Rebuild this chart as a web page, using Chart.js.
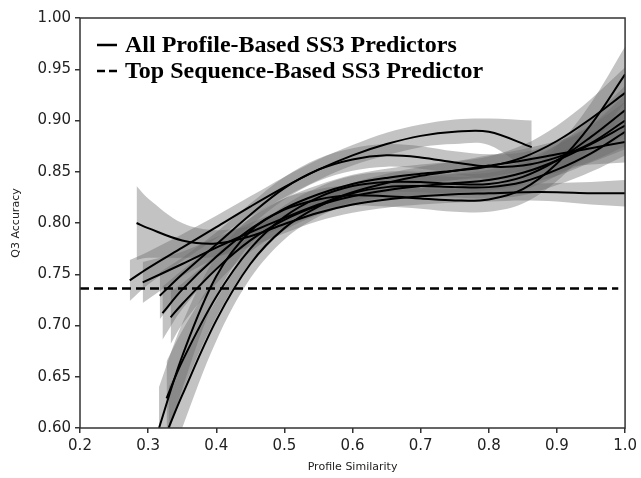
<!DOCTYPE html>
<html>
<head>
<meta charset="utf-8">
<script src="https://cdn.jsdelivr.net/npm/chart.js@4.4.1/dist/chart.umd.min.js"></script>
<style>
  html, body { margin: 0; padding: 0; background: #fff; }
  #wrap { width: 641px; height: 478px; }
</style>
</head>
<body>
<div id="wrap"><canvas id="grafico" width="641" height="478"></canvas></div>
<script>
// eixo x comum (a partir de 0.35) e pontos iniciais de cada curva
const gridX = [0.35, 0.40, 0.45, 0.50, 0.55, 0.60, 0.65, 0.70, 0.75, 0.80, 0.85, 0.90, 0.95, 1.00];

// curva que começa em 0.80 e termina plana
const flatX = [0.283, 0.30].concat(gridX);
const flatY = [0.800, 0.795, 0.783, 0.780, 0.787, 0.799, 0.810, 0.818, 0.823, 0.826, 0.828, 0.829, 0.830, 0.830, 0.829, 0.829];
const flatHi = [0.836, 0.824, 0.800, 0.793, 0.797, 0.808, 0.818, 0.826, 0.831, 0.834, 0.836, 0.837, 0.838, 0.839, 0.840, 0.842];
const flatLo = [0.764, 0.766, 0.766, 0.767, 0.777, 0.790, 0.802, 0.810, 0.815, 0.818, 0.820, 0.821, 0.822, 0.821, 0.818, 0.816];

// curva curta, termina em 0.863
const shortX = [0.273, 0.30, 0.35, 0.40, 0.45, 0.50, 0.55, 0.60, 0.65, 0.70, 0.75, 0.80, 0.863];
const shortY = [0.744, 0.756, 0.776, 0.796, 0.816, 0.835, 0.852, 0.866, 0.877, 0.885, 0.889, 0.889, 0.874];
const shortHi = [0.764, 0.772, 0.789, 0.807, 0.826, 0.845, 0.862, 0.876, 0.888, 0.896, 0.901, 0.902, 0.900];
const shortLo = [0.724, 0.740, 0.763, 0.785, 0.806, 0.825, 0.842, 0.856, 0.866, 0.874, 0.877, 0.876, 0.848];

const cX = [0.292].concat(gridX);
const cY = [0.742, 0.760, 0.776, 0.791, 0.805, 0.818, 0.830, 0.839, 0.846, 0.851, 0.856, 0.861, 0.867, 0.873, 0.879];
const cHi = [0.762, 0.772, 0.786, 0.800, 0.814, 0.827, 0.839, 0.848, 0.855, 0.860, 0.866, 0.872, 0.880, 0.889, 0.899];
const cLo = [0.722, 0.748, 0.766, 0.782, 0.796, 0.809, 0.821, 0.830, 0.837, 0.842, 0.846, 0.850, 0.854, 0.857, 0.859];

// curva com corcova perto de 0.63
const humpX = [0.317].concat(gridX);
const humpY = [0.729, 0.750, 0.779, 0.808, 0.834, 0.852, 0.862, 0.866, 0.864, 0.859, 0.855, 0.856, 0.864, 0.878, 0.900];
const humpHi = [0.752, 0.766, 0.791, 0.819, 0.845, 0.863, 0.873, 0.877, 0.875, 0.870, 0.867, 0.869, 0.879, 0.896, 0.925];
const humpLo = [0.706, 0.734, 0.767, 0.797, 0.823, 0.841, 0.851, 0.855, 0.853, 0.848, 0.843, 0.843, 0.849, 0.860, 0.875];

const m2X = [0.321].concat(gridX);
const m2Y = [0.712, 0.735, 0.767, 0.794, 0.814, 0.828, 0.838, 0.844, 0.848, 0.851, 0.855, 0.864, 0.880, 0.902, 0.927];
const m2Hi = [0.738, 0.754, 0.780, 0.805, 0.824, 0.837, 0.847, 0.853, 0.857, 0.860, 0.865, 0.876, 0.895, 0.921, 0.952];
const m2Lo = [0.686, 0.716, 0.754, 0.783, 0.804, 0.819, 0.829, 0.835, 0.839, 0.842, 0.845, 0.852, 0.865, 0.883, 0.902];

const m3X = [0.333].concat(gridX);
const m3Y = [0.708, 0.721, 0.755, 0.783, 0.803, 0.817, 0.826, 0.832, 0.836, 0.839, 0.842, 0.849, 0.861, 0.877, 0.895];
const m3Hi = [0.734, 0.741, 0.769, 0.794, 0.813, 0.826, 0.835, 0.841, 0.845, 0.848, 0.852, 0.861, 0.876, 0.895, 0.918];
const m3Lo = [0.682, 0.701, 0.741, 0.772, 0.793, 0.808, 0.817, 0.823, 0.827, 0.830, 0.832, 0.837, 0.846, 0.859, 0.872];

// curvas íngremes que vêm de baixo de 0.60
const s1X = [0.316].concat(gridX);
const s1Y = [0.600, 0.670, 0.748, 0.792, 0.813, 0.823, 0.827, 0.826, 0.824, 0.822, 0.823, 0.833, 0.858, 0.896, 0.945];
const s1Hi = [0.640, 0.702, 0.768, 0.805, 0.824, 0.833, 0.837, 0.836, 0.834, 0.833, 0.835, 0.847, 0.875, 0.917, 0.972];
const s1Lo = [0.560, 0.638, 0.728, 0.779, 0.802, 0.813, 0.817, 0.816, 0.814, 0.811, 0.811, 0.819, 0.841, 0.875, 0.918];

const s2X = [0.330].concat(gridX);
const s2Y = [0.600, 0.632, 0.705, 0.760, 0.795, 0.816, 0.829, 0.835, 0.836, 0.835, 0.835, 0.840, 0.852, 0.868, 0.889];
const s2Hi = [0.640, 0.664, 0.725, 0.774, 0.806, 0.826, 0.839, 0.845, 0.846, 0.845, 0.846, 0.853, 0.867, 0.886, 0.912];
const s2Lo = [0.560, 0.600, 0.685, 0.746, 0.784, 0.806, 0.819, 0.825, 0.826, 0.825, 0.824, 0.827, 0.837, 0.850, 0.866];

const s3X = [0.327].concat(gridX);
const s3Y = [0.629, 0.665, 0.728, 0.775, 0.806, 0.825, 0.836, 0.840, 0.840, 0.838, 0.838, 0.845, 0.861, 0.884, 0.910];
const s3Hi = [0.665, 0.695, 0.748, 0.789, 0.817, 0.835, 0.846, 0.850, 0.850, 0.848, 0.849, 0.858, 0.876, 0.902, 0.934];
const s3Lo = [0.593, 0.635, 0.708, 0.761, 0.795, 0.815, 0.826, 0.830, 0.830, 0.828, 0.827, 0.832, 0.846, 0.866, 0.886];

// linha tracejada (melhor preditor baseado em sequência)
const seqX = [0.2, 0.99];
const seqY = [0.736, 0.736];

const xTicks = [0.2, 0.3, 0.4, 0.5, 0.6, 0.7, 0.8, 0.9, 1.0];
const yTicks = [0.60, 0.65, 0.70, 0.75, 0.80, 0.85, 0.90, 0.95, 1.00];

const legendLabels = ["All Profile-Based SS3 Predictors", "Top Sequence-Based SS3 Predictor"];

const curvas = [
  [flatX, flatY, flatHi, flatLo],
  [shortX, shortY, shortHi, shortLo],
  [cX, cY, cHi, cLo],
  [humpX, humpY, humpHi, humpLo],
  [m2X, m2Y, m2Hi, m2Lo],
  [m3X, m3Y, m3Hi, m3Lo],
  [s1X, s1Y, s1Hi, s1Lo],
  [s2X, s2Y, s2Hi, s2Lo],
  [s3X, s3Y, s3Hi, s3Lo],
];

function pts(xs, ys) {
  return xs.map((x, i) => ({ x: x, y: ys[i] }));
}

const datasets = [];
curvas.forEach(([xs, ys, hi, lo]) => {
  datasets.push({
    data: pts(xs, hi),
    borderWidth: 0,
    pointRadius: 0,
    backgroundColor: "rgba(105, 105, 105, 0.4)",
    fill: "+1",
    tension: 0.35,
    order: 3,
  });
  datasets.push({
    data: pts(xs, lo),
    borderWidth: 0,
    pointRadius: 0,
    fill: false,
    tension: 0.35,
    order: 3,
  });
});
curvas.forEach(([xs, ys]) => {
  datasets.push({
    data: pts(xs, ys),
    borderColor: "#000",
    borderWidth: 2,
    pointRadius: 0,
    fill: false,
    tension: 0.35,
    order: 1,
  });
});
datasets.push({
  data: pts(seqX, seqY),
  borderColor: "#000",
  borderWidth: 2.5,
  borderDash: [9, 5],
  pointRadius: 0,
  fill: false,
  order: 0,
});

// moldura e legenda dentro da área do gráfico
const molduraLegenda = {
  id: "molduraLegenda",
  afterDraw(chart) {
    const { ctx, chartArea } = chart;
    ctx.save();
    ctx.strokeStyle = "#333";
    ctx.lineWidth = 1.5;
    ctx.strokeRect(chartArea.left, chartArea.top, chartArea.right - chartArea.left, chartArea.bottom - chartArea.top);

    ctx.fillStyle = "#000";
    ctx.font = "bold 24px 'Liberation Serif'";
    ctx.textBaseline = "alphabetic";
    ctx.strokeStyle = "#000";
    ctx.lineWidth = 2.5;
    // linha cheia
    ctx.beginPath();
    ctx.moveTo(97, 45);
    ctx.lineTo(117, 45);
    ctx.stroke();
    ctx.fillText(legendLabels[0], 125, 52);
    // linha tracejada
    ctx.setLineDash([8, 4]);
    ctx.beginPath();
    ctx.moveTo(97, 71);
    ctx.lineTo(117, 71);
    ctx.stroke();
    ctx.setLineDash([]);
    ctx.fillText(legendLabels[1], 125, 78);
    ctx.restore();
  },
};

new Chart(document.getElementById("grafico"), {
  type: "line",
  data: { datasets: datasets },
  plugins: [molduraLegenda],
  options: {
    responsive: false,
    animation: false,
    layout: { padding: { left: 0, right: 14, top: 18, bottom: 0 } },
    plugins: {
      legend: { display: false },
      tooltip: { enabled: false },
      filler: { propagate: false },
    },
    scales: {
      x: {
        type: "linear",
        min: 0.2,
        max: 1.0,
        afterFit(scale) { scale.height = 50; },
        afterBuildTicks(scale) { scale.ticks = xTicks.map(v => ({ value: v })); },
        border: { display: false },
        grid: { drawOnChartArea: false, drawTicks: true, tickLength: 5, color: "#333", lineWidth: 1.5 },
        ticks: {
          padding: 4,
          color: "#222",
          font: { family: "DejaVu Sans", size: 15 },
          callback: v => Number(v).toFixed(1),
        },
        title: {
          display: true,
          text: "Profile Similarity",
          color: "#222",
          font: { family: "DejaVu Sans", size: 11 },
          padding: { top: 2, bottom: 4 },
        },
      },
      y: {
        min: 0.6,
        max: 1.0,
        afterFit(scale) { scale.width = 80; },
        afterBuildTicks(scale) { scale.ticks = yTicks.map(v => ({ value: v })); },
        border: { display: false },
        grid: { drawOnChartArea: false, drawTicks: true, tickLength: 5, color: "#333", lineWidth: 1.5 },
        ticks: {
          padding: 4,
          color: "#222",
          font: { family: "DejaVu Sans", size: 15 },
          callback: v => Number(v).toFixed(2),
        },
        title: {
          display: true,
          text: "Q3 Accuracy",
          color: "#222",
          font: { family: "DejaVu Sans", size: 11 },
          padding: { top: 10, bottom: 2 },
        },
      },
    },
  },
});
</script>
</body>
</html>
